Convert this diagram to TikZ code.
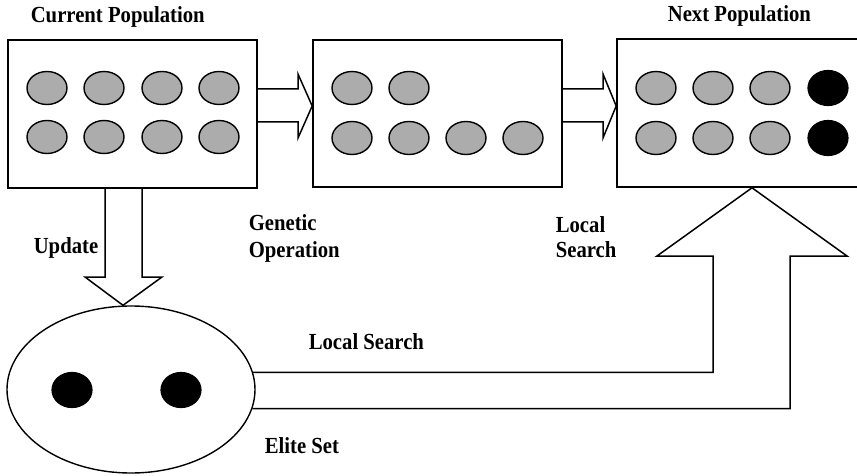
\documentclass[tikz,border=0pt]{standalone}
\usepackage{fontspec}
\setmainfont{Liberation Serif}
\newfontfamily\lblfont{Liberation Serif}[FakeStretch=0.9]
\usetikzlibrary{shapes.geometric,calc}
\definecolor{cellgray}{RGB}{172,172,172}
\begin{document}
\begin{tikzpicture}[x=1pt,y=-1pt,
  line width=1.6pt, line join=miter,
  popbox/.style={draw, rectangle, minimum width=249pt, minimum height=148pt, inner sep=0pt},
  cell/.style={draw, ellipse, fill=cellgray, minimum width=40pt, minimum height=33pt, inner sep=0pt, line width=1.4pt},
  elitecell/.style={draw, ellipse, fill=black, minimum width=40pt, minimum height=35pt, inner sep=0pt, line width=1.2pt},
  lbl/.style={font=\lblfont\bfseries\fontsize{23}{27}\selectfont, inner sep=0pt, anchor=base west},
  blockarrow/.style={draw, line width=1.5pt}
]
\useasboundingbox (0,0) rectangle (857,476);
\clip (0,0) rectangle (857,476);

% population boxes
\node[popbox] (cur) at (132.5,114) {};
\node[popbox, minimum height=147pt] (mid) at (437.5,113.5) {};
\node[popbox] (nxt) at (741.5,113) {};

% elite set
\node[draw, ellipse, minimum width=248pt, minimum height=167pt, inner sep=0pt, line width=1.4pt] (elite) at (131,389.5) {};

% individuals of the current population
\foreach \x [count=\i] in {47,104,162,219}{
  \node[cell] (c1\i) at (\x,88) {};
  \node[cell] (c2\i) at (\x,137) {};
}
% individuals after the genetic operation
\node[cell] (m11) at (352,88) {};
\node[cell] (m12) at (409,88) {};
\foreach \x [count=\i] in {352,409,466,523}{
  \node[cell] (m2\i) at (\x,138) {};
}
% individuals of the next population
\foreach \x [count=\i] in {656,713,770}{
  \node[cell] (n1\i) at (\x,88) {};
  \node[cell] (n2\i) at (\x,138) {};
}
\node[elitecell] (n14) at (828,88) {};
\node[elitecell] (n24) at (828,138) {};

% elite individuals
\node[elitecell] (e1) at (72,390) {};
\node[elitecell] (e2) at (181,390) {};

% block arrows
\draw[blockarrow] (cur.east |- 0,89) -- (298,89) -- (298,74) -- (mid.west |- 0,106)
  -- (298,138) -- (298,122) -- (cur.east |- 0,122);
\draw[blockarrow] (mid.east |- 0,89) -- (603,89) -- (603,74) -- (nxt.west |- 0,106)
  -- (603,138) -- (603,122) -- (mid.east |- 0,122);
\draw[blockarrow] (cur.south -| 105,0) -- (105,277) -- (85,277) -- (elite.north -| 123,0)
  -- (162,277) -- (142,277) -- (cur.south -| 142,0);
\draw[blockarrow] (elite.8) -- (elite.8 -| 713,0) -- (713,256) -- (657,256)
  -- (nxt.south -| 752,0) -- (847,256) -- (790,256) -- (elite.351 -| 790,0) -- (elite.351);

% labels
\node[lbl] (tcur) at (30,23) {Current Population};
\node[lbl] (tnxt) at (667,22) {Next Population};
\node[lbl] (tgen1) at (248,230) {Genetic};
\node[lbl] (tgen2) at (248,257) {Operation};
\node[lbl] (tloc1) at (555,232) {Local};
\node[lbl] (tloc2) at (555,257) {Search};
\node[lbl] (tls) at (308,349) {Local Search};
\node[lbl] (tupd) at (33,253) {Update};
\node[lbl] (telite) at (264,453) {Elite Set};
\end{tikzpicture}
\end{document}
